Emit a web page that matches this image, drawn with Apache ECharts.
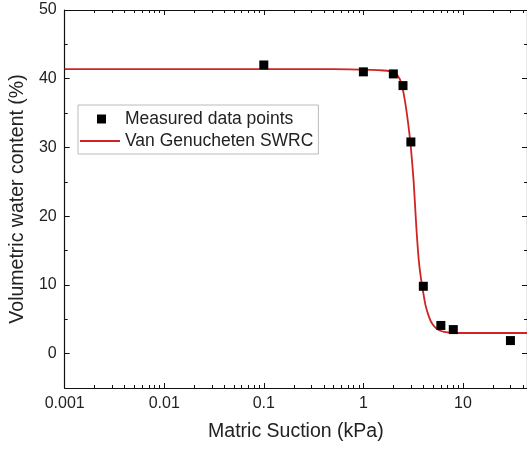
<!DOCTYPE html>
<html>
<head>
<meta charset="utf-8">
<script src="https://cdn.jsdelivr.net/npm/echarts@6/dist/echarts.min.js"></script>
<style>
    html, body { margin: 0; padding: 0; background: #fff; }
    #chart { width: 527px; height: 450px; }
</style>
</head>
<body>
<div id="chart"></div>
<script>
    // 实测数据点 (kPa, %)
    let suction = [0.1, 1, 2, 2.5, 3, 4, 6, 8, 30];
    let waterContent = [42.0, 41.0, 40.7, 39.0, 30.8, 9.8, 4.1, 3.5, 1.9];

    // 拟合曲线
    let curveSuction = [0.001, 0.5, 1.2, 1.6, 2.0, 2.2, 2.4, 2.6, 2.8, 3.0, 3.2, 3.4, 3.6, 3.8, 4.0, 4.2, 4.5, 4.8, 5.2, 5.8, 6.5, 8, 44];
    let curveContent = [41.4, 41.4, 41.3, 41.2, 41.0, 40.5, 39.4, 37.0, 33.8, 30.0, 25.0, 18.5, 13.6, 10.8, 8.8, 7.1, 5.6, 4.6, 3.9, 3.4, 3.15, 3.0, 3.0];

    // 刻度
    let xMajorTicks = [0.001, 0.01, 0.1, 1, 10];
    let xMinorTicks = [
        0.002, 0.003, 0.004, 0.005, 0.006, 0.007, 0.008, 0.009,
        0.02, 0.03, 0.04, 0.05, 0.06, 0.07, 0.08, 0.09,
        0.2, 0.3, 0.4, 0.5, 0.6, 0.7, 0.8, 0.9,
        2, 3, 4, 5, 6, 7, 8, 9,
        20, 30, 40
    ];
    let yMajorTicks = [0, 10, 20, 30, 40, 50];
    let yMinorTicks = [-5, 5, 15, 25, 35, 45];

    let font = '"Liberation Sans", Arial, sans-serif';
    let ink = '#222';
    let red = '#d02424';

    function pairs(xs, ys) {
        return xs.map(function (x, i) { return [x, ys[i]]; });
    }

    function xAxisOf(position, ticks, len, showLine, showLabel) {
        return {
            type: 'log',
            logBase: 10,
            min: 0.001,
            max: 44,
            position: position,
            axisLine: { show: showLine, onZero: false, lineStyle: { color: '#111', width: 1.2 } },
            axisTick: { inside: true, length: len, customValues: ticks, lineStyle: { color: '#111', width: 1 } },
            axisLabel: {
                show: showLabel,
                customValues: xMajorTicks,
                margin: 8,
                fontFamily: font,
                fontSize: 16,
                color: ink,
                formatter: function (v) { return String(Number(v.toPrecision(3))); }
            },
            splitLine: { show: false },
            minorTick: { show: false }
        };
    }

    function yAxisOf(position, ticks, len, showLine, showLabel) {
        return {
            type: 'value',
            min: -5,
            max: 50,
            position: position,
            axisLine: { show: showLine, onZero: false, lineStyle: { color: '#111', width: 1.2 } },
            axisTick: { inside: true, length: len, customValues: ticks, lineStyle: { color: '#111', width: 1 } },
            axisLabel: {
                show: showLabel,
                customValues: yMajorTicks,
                margin: 8,
                fontFamily: font,
                fontSize: 16,
                color: ink
            },
            splitLine: { show: false }
        };
    }

    let xAxes = [
        xAxisOf('bottom', xMajorTicks, 5, true, true),
        xAxisOf('bottom', xMinorTicks, 3, false, false),
        xAxisOf('top', xMajorTicks, 5, true, false),
        xAxisOf('top', xMinorTicks, 3, false, false)
    ];
    xAxes[0].name = 'Matric Suction (kPa)';
    xAxes[0].nameLocation = 'middle';
    xAxes[0].nameGap = 34;
    xAxes[0].nameTextStyle = { fontFamily: font, fontSize: 19.5, color: ink };

    let yAxes = [
        yAxisOf('left', yMajorTicks, 5, true, true),
        yAxisOf('left', yMinorTicks, 3, false, false),
        yAxisOf('right', yMajorTicks, 5, true, false),
        yAxisOf('right', yMinorTicks, 3, false, false)
    ];
    yAxes[0].name = 'Volumetric water content (%)';
    yAxes[0].nameLocation = 'middle';
    yAxes[0].nameGap = 30;
    yAxes[0].nameTextStyle = { fontFamily: font, fontSize: 19.5, color: ink };

    let chart = echarts.init(document.getElementById('chart'), null, { renderer: 'canvas' });
    chart.setOption({
        animation: false,
        backgroundColor: '#fff',
        grid: { left: 61, top: 10, width: 467, height: 378 },
        legend: {
            orient: 'vertical',
            left: 78,
            top: 105,
            padding: [5, 5, 4, 2],
            itemGap: 4,
            itemWidth: 40,
            itemHeight: 10,
            borderColor: '#bbb',
            borderWidth: 1,
            backgroundColor: '#fff',
            textStyle: { fontFamily: font, fontSize: 17.5, color: ink },
            data: [
                {
                    name: 'Measured data points',
                    icon: 'path://M0,0 M17,0 L26,0 L26,9 L17,9 Z M40,9',
                    itemStyle: { color: '#000', opacity: 1 }
                },
                {
                    name: 'Van Genucheten SWRC',
                    icon: 'path://M0,0 M0,4 L40,4 L40,6 L0,6 Z M40,10',
                    itemStyle: { color: red }
                }
            ]
        },
        xAxis: xAxes,
        yAxis: yAxes,
        series: [
            {
                name: 'Van Genucheten SWRC',
                type: 'line',
                data: pairs(curveSuction, curveContent),
                showSymbol: false,
                symbol: 'none',
                smooth: 0.2,
                lineStyle: { color: red, width: 1.8 },
                itemStyle: { color: red },
                z: 2
            },
            {
                name: 'Measured data points',
                type: 'scatter',
                data: pairs(suction, waterContent),
                symbol: 'rect',
                symbolSize: 9,
                itemStyle: { color: '#000', opacity: 1 },
                z: 3
            }
        ]
    });
</script>
</body>
</html>
